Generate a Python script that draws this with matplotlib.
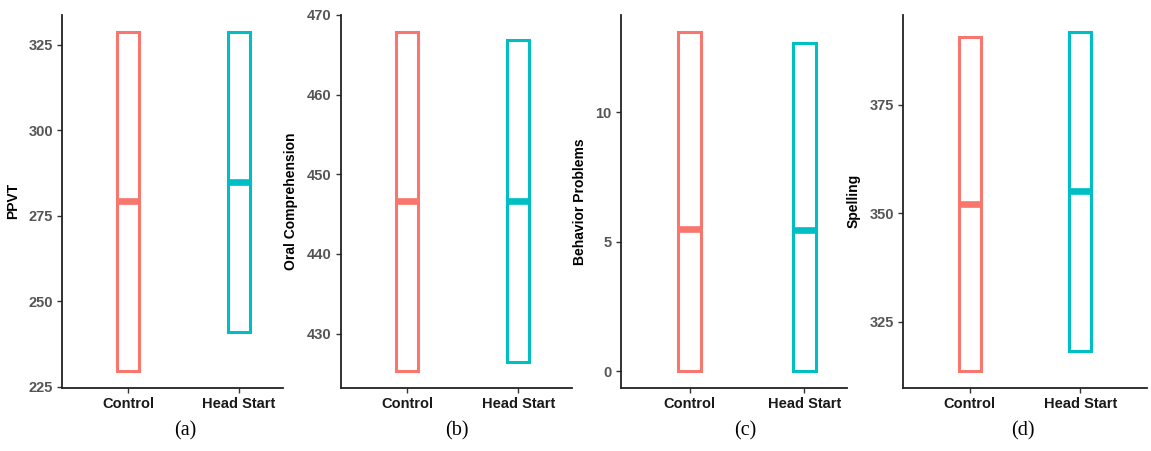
import matplotlib.pyplot as plt

plt.rcParams['font.family'] = ['Liberation Sans', 'DejaVu Sans']

groups = ["Control", "Head Start"]
colors = ["#F8766D", "#00BFC4"]

# per panel: lower edge, median, upper edge of each group box
ylabels = ["PPVT", "Oral Comprehension", "Behavior Problems", "Spelling"]
captions = ["(a)", "(b)", "(c)", "(d)"]
box_low = [[229.6, 241.0], [425.3, 426.4], [0.0, 0.0], [313.6, 318.2]]
box_med = [[279.3, 284.9], [446.6, 446.6], [5.49, 5.45], [352.2, 355.0]]
box_high = [[328.8, 328.8], [467.9, 466.9], [13.12, 12.68], [390.6, 391.8]]
yticks = [[225, 250, 275, 300, 325], [430, 440, 450, 460, 470],
          [0, 5, 10], [325, 350, 375]]

W, H = 1151, 451
# axes pixel extents (left, right), plus x-limit on right (panels overlap in original)
lefts = [62, 340.7, 620.7, 903.3]
rights = [283, 571.7, 846.7, 1146.7]
xright = [2.40, 2.48, 2.37, 2.60]
label_x = [20, 298, 586.7, 861]
cap_x = [185, 456.7, 745.7, 1023]
top, bottom = 14.7, 388

fig = plt.figure(figsize=(W / 100, H / 100), dpi=100)

for i in range(4):
    ax = fig.add_axes([lefts[i] / W, 1 - bottom / H,
                       (rights[i] - lefts[i]) / W, (bottom - top) / H])
    lo, md, hi = box_low[i], box_med[i], box_high[i]
    for j in range(2):
        x = j + 1
        ax.bar(x, hi[j] - lo[j], bottom=lo[j], width=0.2, fill=False,
               edgecolor=colors[j], linewidth=2.2, zorder=2)
        ax.hlines(md[j], x - 0.1, x + 0.1, color=colors[j], linewidth=4.8,
                  zorder=3)
    rng = max(hi) - min(lo)
    ax.set_ylim(min(lo) - 0.05 * rng, max(hi) + 0.05 * rng)
    ax.set_xlim(0.4, xright[i])
    ax.set_xticks([1, 2])
    ax.set_xticklabels(groups, fontsize=10.5, fontweight='bold', color='#1a1a1a')
    ax.set_yticks(yticks[i])
    ax.set_yticklabels([str(t) for t in yticks[i]], fontsize=10.5,
                       fontweight='bold', color='#555555')
    for s in ['top', 'right']:
        ax.spines[s].set_visible(False)
    for s in ['left', 'bottom']:
        ax.spines[s].set_linewidth(1.3)
        ax.spines[s].set_color('#222222')
    ax.tick_params(length=3.5, width=1, color='#333333', pad=3)
    ax.set_ylabel(ylabels[i], fontsize=10, fontweight='bold', color='black')
    ax.yaxis.set_label_coords((label_x[i] - lefts[i]) / (rights[i] - lefts[i]), 0.5)
    fig.text(cap_x[i] / W, 1 - 431 / H, captions[i], ha='center', va='center',
             fontsize=14.5, family=['Liberation Serif', 'DejaVu Serif'])

fig.savefig("out.png", dpi=100)
